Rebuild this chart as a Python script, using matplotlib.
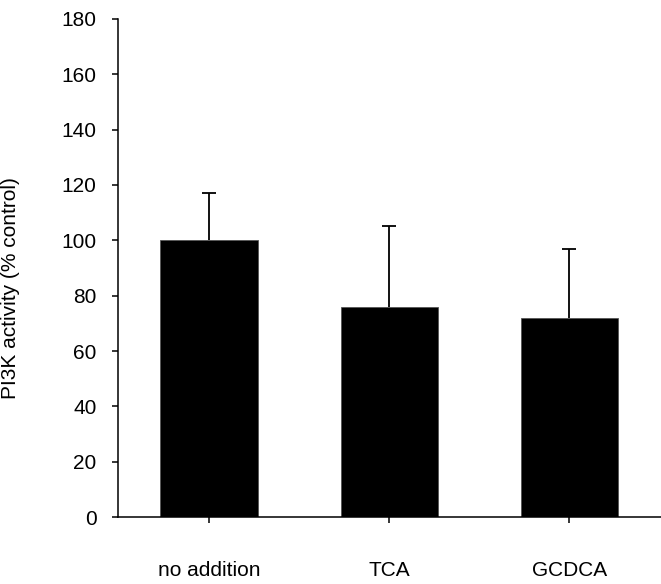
import matplotlib
matplotlib.use("Agg")
import matplotlib.pyplot as plt

# data
categories = ["no addition", "TCA", "GCDCA"]
activity = [100, 76, 72]
sem = [17, 29, 25]

plt.rcParams['font.family'] = ['Liberation Sans', 'DejaVu Sans']

fig = plt.figure(figsize=(6.61, 5.84), dpi=100)
ax = fig.add_axes([0.1785, 0.1147, 0.8215, 0.8528])

x = list(range(len(categories)))
ax.bar(x, activity, width=0.54, color='black', edgecolor='#555555', linewidth=0.6, zorder=2)
# upper error bars only
eb = ax.errorbar(x, activity, yerr=[[0] * len(sem), sem], fmt='none', ecolor='black',
                 elinewidth=1.3, capsize=5, capthick=1.3, zorder=1)
eb[1][0].set_visible(False)  # hide the lower caps

ax.set_ylim(0, 180)
ax.set_yticks(range(0, 181, 20))
ax.set_xlim(-0.506, 2.51)
ax.set_xticks(x)
ax.set_xticklabels(categories)

ax.spines['top'].set_visible(False)
ax.spines['right'].set_visible(False)
ax.spines['left'].set_linewidth(1.1)
ax.spines['bottom'].set_linewidth(1.1)
ax.tick_params(axis='y', direction='out', length=4.5, width=1.1, pad=11, labelsize=15)
ax.tick_params(axis='x', direction='out', length=4.5, width=1.1, pad=27, labelsize=15)

ax.set_ylabel("PI3K activity (% control)", fontsize=15)
ax.yaxis.set_label_coords(-0.18, 0.46)

fig.savefig("out.png", dpi=100)
